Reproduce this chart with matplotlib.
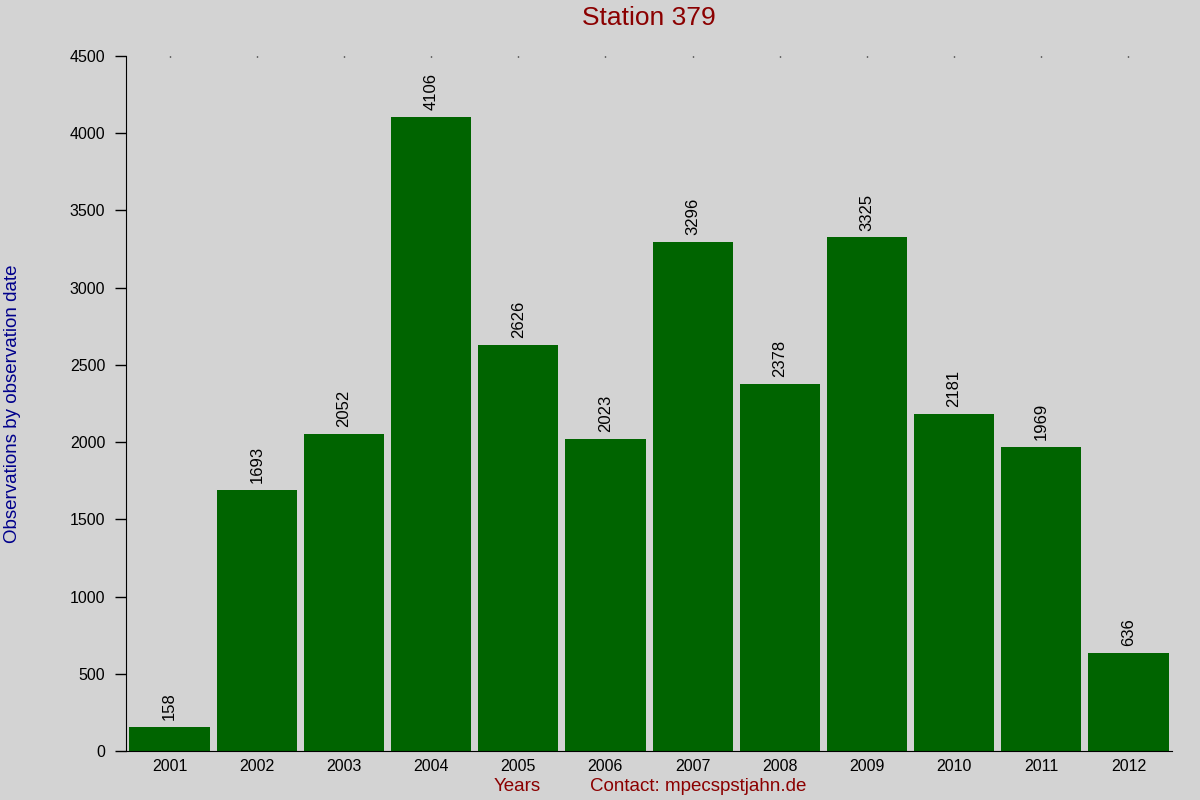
import matplotlib.pyplot as plt

plt.rcParams['font.family'] = ['Liberation Sans', 'DejaVu Sans']

# data
years = ["2001", "2002", "2003", "2004", "2005", "2006",
         "2007", "2008", "2009", "2010", "2011", "2012"]
counts = [158, 1693, 2052, 4106, 2626, 2023, 3296, 2378, 3325, 2181, 1969, 636]

bg = "#d3d3d3"
fig = plt.figure(figsize=(12, 8), dpi=100, facecolor=bg)
ax = fig.add_axes([0.105, 0.06125, 0.8717, 0.86875], facecolor=bg)

pos = list(range(len(years)))
ax.bar(pos, counts, width=0.92, color="#006400")

for x, v in zip(pos, counts):
    ax.annotate(str(v), (x, v), xytext=(0, 5), textcoords="offset points",
                rotation=90, ha="center", va="bottom", fontsize=12)

ax.set_xlim(-0.5, len(years) - 0.5)
ax.set_ylim(0, 4500)
ax.set_yticks(range(0, 4501, 500))
ax.set_xticks(pos)
ax.set_xticklabels(years)

for side in ["top", "right"]:
    ax.spines[side].set_visible(False)
ax.spines["left"].set_bounds(0, 4500)

ax.tick_params(axis="y", length=8, width=1, pad=7, labelsize=11.5)
ax.tick_params(axis="x", bottom=False, top=True, labelbottom=True,
               labeltop=False, length=1, width=1, pad=6, labelsize=11.5,
               direction="in")

fig.text(0.541, 0.978, "Station 379", ha="center", va="center",
         fontsize=19, color="#8b0000")
ax.set_ylabel("Observations by observation date", fontsize=13.5,
              color="#00008b")
ax.yaxis.set_label_coords(-0.1, 0.5)
fig.text(0.431, 0.017, "Years", ha="center", va="center",
         fontsize=13.5, color="#8b0000")
fig.text(0.582, 0.017, "Contact: mpecspstjahn.de", ha="center", va="center",
         fontsize=13.5, color="#8b0000")

fig.savefig("out.png", dpi=100, facecolor=bg)
